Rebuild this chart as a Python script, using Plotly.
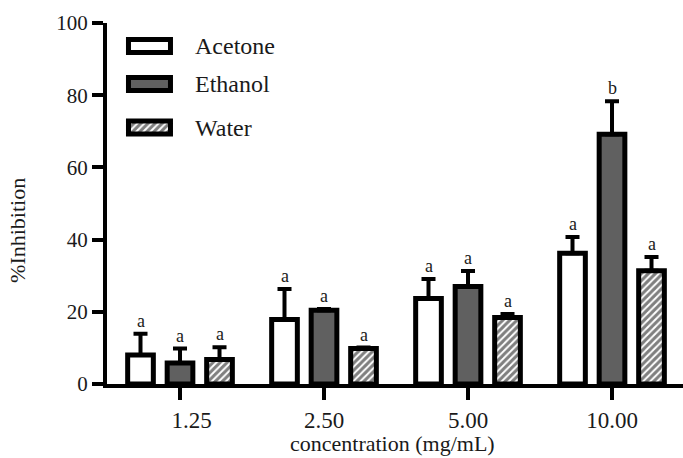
import plotly.graph_objects as go

# Concentrations (mg/mL) and mean % inhibition per extract solvent
concentrations = ["1.25", "2.50", "5.00", "10.00"]
acetone = [8.0, 17.9, 23.7, 36.2]
acetone_err = [5.9, 8.4, 5.4, 4.5]
ethanol = [5.8, 20.4, 27.0, 69.2]
ethanol_err = [4.0, 0.4, 4.3, 9.1]
water = [6.8, 9.8, 18.4, 31.4]
water_err = [3.4, 0.3, 1.0, 3.8]

# Significance letters
acetone_sig = ["a", "a", "a", "a"]
ethanol_sig = ["a", "a", "a", "b"]
water_sig = ["a", "a", "a", "a"]

y_ticks = [0, 20, 40, 60, 80, 100]

FONT = "Liberation Serif"
INK = "#1a1a1a"
GRAY = "#606060"

x_pos = list(range(len(concentrations)))
# first label sits a little right of its tick
tick_text = ["&nbsp;" * 4 + concentrations[0]] + concentrations[1:]

series = [
    ("Acetone", acetone, acetone_err, acetone_sig,
     dict(color="white", line=dict(color="black", width=5))),
    ("Ethanol", ethanol, ethanol_err, ethanol_sig,
     dict(color=GRAY, line=dict(color="black", width=5))),
    ("Water", water, water_err, water_sig,
     dict(color="white", line=dict(color="black", width=5),
          pattern=dict(shape="/", fgcolor="black", bgcolor="white",
                       size=5, solidity=0.6))),
]

fig = go.Figure()
for name, vals, errs, _, marker in series:
    fig.add_trace(go.Bar(
        x=x_pos, y=vals, name=name, marker=marker,
        error_y=dict(type="data", array=errs, arrayminus=[0] * len(errs),
                     symmetric=False, color="black", thickness=4, width=7),
        showlegend=False,
    ))

# Letters above each error bar
bargap = 0.177
slot = (1 - bargap) / 3
annotations = []
for k, (name, vals, errs, sig, _) in enumerate(series):
    for i, (v, e, s) in enumerate(zip(vals, errs, sig)):
        annotations.append(dict(
            x=x_pos[i] + (k - 1) * slot, y=v + e, xref="x", yref="y",
            text=s, showarrow=False, yanchor="bottom", yshift=1,
            font=dict(family=FONT, size=18, color=INK),
        ))

# Legend swatches drawn as bars on an overlaid unit axis
legend_x0 = 0.0373
legend_w = 0.0729
legend_h = 0.036
legend_y = [0.936, 0.831, 0.7105]
for (name, _, _, _, marker), ly in zip(series, legend_y):
    fig.add_trace(go.Bar(
        y=[ly], x=[legend_w], base=[legend_x0], orientation="h",
        width=[legend_h], marker=marker, xaxis="x2", yaxis="y2",
        showlegend=False, hoverinfo="skip",
    ))
    annotations.append(dict(
        x=0.149, y=ly, xref="paper", yref="paper", text=name,
        showarrow=False, xanchor="left", yanchor="middle",
        font=dict(family=FONT, size=24, color=INK),
    ))

# Axis titles
annotations.append(dict(
    x=-0.1545, y=0.424, xref="paper", yref="paper", text="%Inhibition",
    textangle=-90, showarrow=False, xanchor="center", yanchor="middle",
    font=dict(family=FONT, size=22, color=INK),
))
annotations.append(dict(
    x=0.4965, y=-0.2025, xref="paper", yref="paper",
    text="concentration (mg/mL)", showarrow=False,
    xanchor="center", yanchor="bottom", borderpad=0,
    font=dict(family=FONT, size=22, color=INK),
))

fig.update_layout(
    width=683, height=458,
    margin=dict(l=107, r=0, t=23, b=74),
    paper_bgcolor="white", plot_bgcolor="white",
    barmode="group", bargap=bargap, bargroupgap=0.35,
    showlegend=False,
    font=dict(family=FONT, color=INK),
    annotations=annotations,
    xaxis=dict(
        range=[-0.507, 3.493], tickvals=x_pos, ticktext=tick_text,
        showline=True, linecolor="black", linewidth=4,
        ticks="outside", ticklen=12, tickwidth=4, tickcolor="black",
        showgrid=False, zeroline=False, automargin=False,
        tickfont=dict(family=FONT, size=23, color=INK),
    ),
    yaxis=dict(
        range=[0, 100], tickvals=y_ticks,
        showline=True, linecolor="black", linewidth=4,
        ticks="outside", ticklen=11, tickwidth=4, tickcolor="black",
        showgrid=False, zeroline=False, automargin=False,
        tickfont=dict(family=FONT, size=21, color=INK),
    ),
    xaxis2=dict(range=[0, 1], overlaying="x", visible=False, fixedrange=True),
    yaxis2=dict(range=[0, 1], overlaying="y", visible=False, fixedrange=True),
)

fig.write_html("out.html")
